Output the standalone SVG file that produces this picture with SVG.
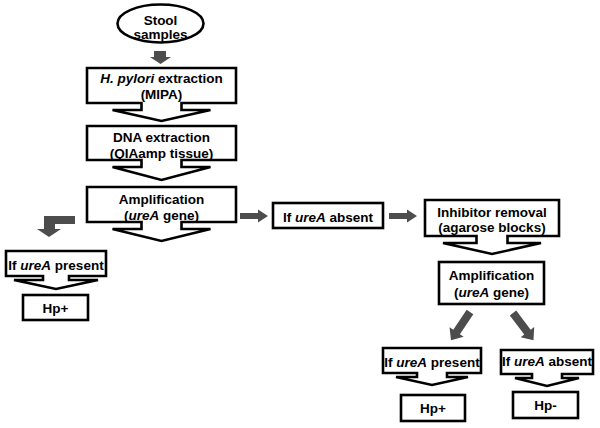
<svg xmlns="http://www.w3.org/2000/svg" width="600" height="428" viewBox="0 0 600 428">
<style>
.shape{fill:#fff;stroke:#000;stroke-width:2.6;stroke-linejoin:miter}
.t{font-family:"Liberation Sans",Arial,sans-serif;font-weight:bold;font-size:13.5px;fill:#000;text-anchor:middle}
.i{font-style:italic}
.arr{fill:#4d4d4d;stroke:none}
</style>
<defs>
<path id="diag" d="M0,-4 H24 V-8.5 L34,0 L24,8.5 V4 H0 Z"/>
</defs>
<rect width="600" height="428" fill="#fff"/>
<g id="connectors">
<path class="arr" d="M154,51 H166 V57 H171 L160.5,64 L150,57 H154 Z"/>
<path class="arr" d="M240,213 H258 V209.5 L268,216 L258,222.5 V219 H240 Z"/>
<path class="arr" d="M389,213 H407 V209.5 L417,216 L407,222.5 V219 H389 Z"/>
<path class="arr" d="M75,216 H44 V229 H37 L49,237 L61,229 H55 V224 H75 Z"/>
<use href="#diag" class="arr" transform="translate(470,312) rotate(124)"/>
<use href="#diag" class="arr" transform="translate(513,313) rotate(53)"/>
</g>
<g id="stool">
<ellipse class="shape" cx="160.5" cy="23.5" rx="43" ry="19"/>
<text class="t" x="160.5" y="25">Stool</text>
<text class="t" x="160.5" y="39">samples</text>
</g>
<g id="hpylori">
<path class="shape" d="M87,68 H236 V103 H181.5 V110 H210.5 L161.5,121 L112.5,110 H141.5 V103 H87 Z"/>
<text class="t" x="161.5" y="83"><tspan class="i">H. pylori</tspan> extraction</text>
<text class="t" x="161.5" y="99">(MIPA)</text>
</g>
<g id="dna">
<path class="shape" d="M87,126 H236 V160 H181.5 V167 H210.5 L161.5,180 L112.5,167 H141.5 V160 H87 Z"/>
<text class="t" x="161.5" y="142">DNA extraction</text>
<text class="t" x="161.5" y="158">(QIAamp tissue)</text>
</g>
<g id="amp1">
<path class="shape" d="M87,187 H236 V222 H181.5 V229 H210.5 L161.5,241 L112.5,229 H141.5 V222 H87 Z"/>
<text class="t" x="161.5" y="204">Amplification</text>
<text class="t" x="161.5" y="220">(<tspan class="i">ureA</tspan> gene)</text>
</g>
<g id="present-left">
<path class="shape" d="M6,251 H106 V276 H69 V280 H98 L56,289 L14,280 H43 V276 H6 Z"/>
<text class="t" x="56" y="270">If <tspan class="i">ureA</tspan> present</text>
</g>
<g id="hpplus-left">
<rect class="shape" x="23" y="295" width="65" height="25"/>
<text class="t" x="55.5" y="313">Hp+</text>
</g>
<g id="absent-mid">
<rect class="shape" x="273" y="203" width="110" height="25"/>
<text class="t" x="328" y="222">If <tspan class="i">ureA</tspan> absent</text>
</g>
<g id="inhibitor">
<path class="shape" d="M425,200 H559 V236 H507.5 V243 H541 L492,254 L443,243 H476.5 V236 H425 Z"/>
<text class="t" x="492" y="217">Inhibitor removal</text>
<text class="t" x="492" y="232">(agarose blocks)</text>
</g>
<g id="amp2">
<rect class="shape" x="439" y="262" width="105" height="42"/>
<text class="t" x="491.5" y="280">Amplification</text>
<text class="t" x="491.5" y="297">(<tspan class="i">ureA</tspan> gene)</text>
</g>
<g id="present-right">
<path class="shape" d="M383,348 H481 V373 H447 V377 H468 L432,385 L396,377 H417 V373 H383 Z"/>
<text class="t" x="432" y="367">If <tspan class="i">ureA</tspan> present</text>
</g>
<g id="absent-right">
<path class="shape" d="M501,350 H593 V374 H562 V378 H579 L547,386 L515,378 H532 V374 H501 Z"/>
<text class="t" x="547" y="366">If <tspan class="i">ureA</tspan> absent</text>
</g>
<g id="hpplus-right">
<rect class="shape" x="401" y="395" width="64" height="26"/>
<text class="t" x="433" y="413">Hp+</text>
</g>
<g id="hpminus">
<rect class="shape" x="513" y="392" width="65" height="26"/>
<text class="t" x="545.5" y="410">Hp-</text>
</g>
</svg>
